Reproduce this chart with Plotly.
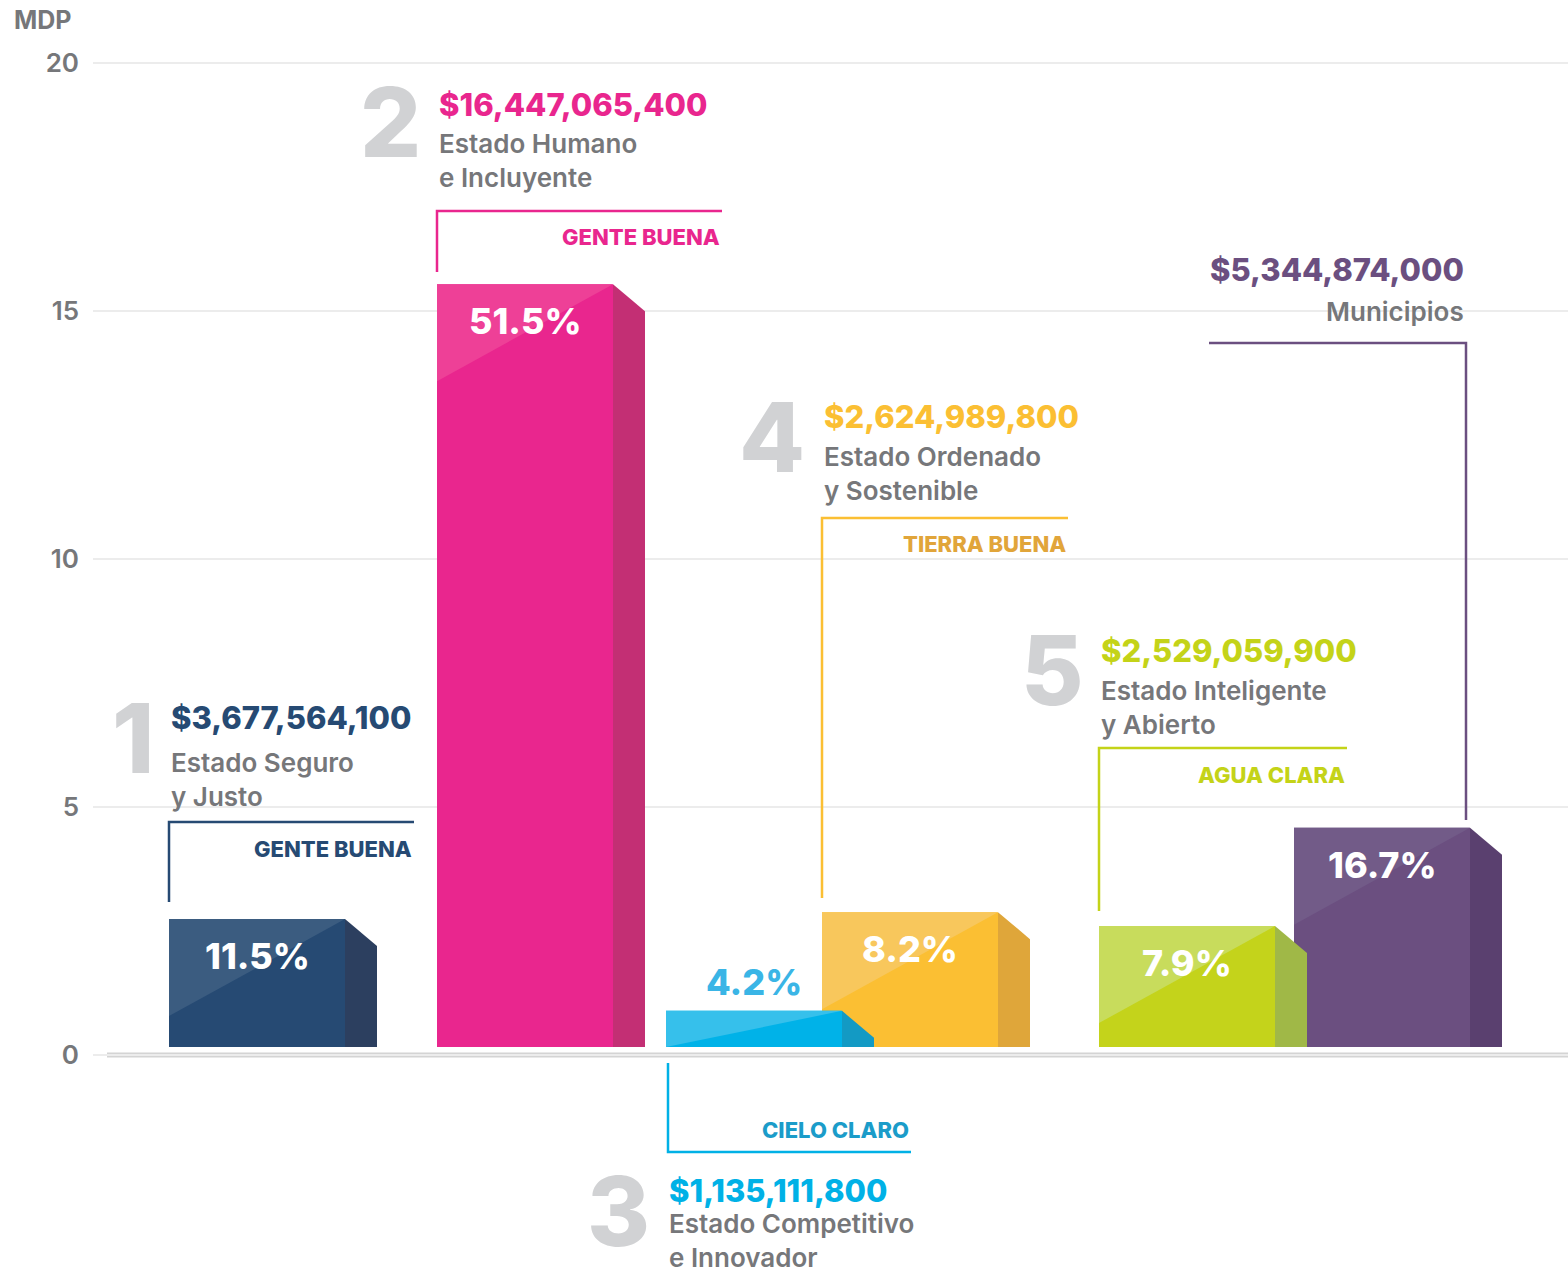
import plotly.graph_objects as go

programs = ["Estado Seguro<br>y Justo", "Estado Humano<br>e Incluyente",
            "Estado Competitivo<br>e Innovador", "Estado Ordenado<br>y Sostenible",
            "Estado Inteligente<br>y Abierto", "Municipios"]
amounts = ["$3,677,564,100", "$16,447,065,400", "$1,135,111,800",
           "$2,624,989,800", "$2,529,059,900", "$5,344,874,000"]
shares = ["11.5%", "51.5%", "4.2%", "8.2%", "7.9%", "16.7%"]
ejes = ["GENTE BUENA", "GENTE BUENA", "CIELO CLARO", "TIERRA BUENA", "AGUA CLARA", ""]
numbers = ["1", "2", "3", "4", "5", ""]
heights = [2.74, 15.54, 0.89, 2.88, 2.60, 4.58]   # MDP, bar tops as drawn
yticks = [0, 5, 10, 15, 20]

# ---- styling ----
front = ["#264a73", "#e9268e", "#00b2e8", "#fbbf33", "#c4d31b", "#6b4f80"]
light = ["#3b5c80", "#ee4097", "#36c0eb", "#f8c75c", "#c8dc5c", "#725b88"]
side = ["#2c3f5f", "#c32f74", "#139ac4", "#dfa63a", "#a0b847", "#5a406f"]
accent = ["#264a73", "#e9268e", "#00b1e6", "#fbbf33", "#c4d318", "#6b4f80"]
eje_col = ["#264a73", "#e9268e", "#1b9cc9", "#e1a53a", "#c4d318", "#6b4f80"]
pct_col = ["white", "white", "#3ab5e6", "white", "white", "white"]
GREY = "#76777a"
NUMGREY = "#d1d2d4"
FONT = "Inter"

W, H = 1568, 1278
L = 93             # left margin (plot area starts here)
PX = 49.6          # pixels per MDP unit
Y0 = 1055          # pixel row of the zero line
BASE = 8 / PX      # bars float a little above the axis
bar_left = [169, 437, 666, 822, 1099, 1294]
BAR_W = 176
SIDE_W = 32
SIDE_DROP = 27 / PX
HL_DROP = 97 / PX
draw_order = [0, 1, 3, 2, 5, 4]


def py(p):
    return 1 - p / H


fig = go.Figure()

for i in draw_order:
    l = bar_left[i]
    r = l + BAR_W
    h = heights[i]
    fig.add_trace(go.Bar(x=[l + BAR_W / 2], y=[h - BASE], base=BASE, width=BAR_W,
                         marker=dict(color=front[i], line=dict(width=0)),
                         hoverinfo="skip", showlegend=False))
    d = min(HL_DROP, h - BASE)
    fig.add_trace(go.Scatter(x=[l, r, l, l], y=[h, h, h - d, h], fill="toself",
                             fillcolor=light[i], mode="lines", line=dict(width=0),
                             hoverinfo="skip", showlegend=False))
    fig.add_trace(go.Scatter(x=[r, r + SIDE_W, r + SIDE_W, r, r],
                             y=[h, h - SIDE_DROP, BASE, BASE, h], fill="toself",
                             fillcolor=side[i], mode="lines", line=dict(width=0),
                             hoverinfo="skip", showlegend=False))

# percentage labels
for i in range(6):
    shift = 29 if i == 2 else -37
    fig.add_annotation(x=bar_left[i] + BAR_W / 2, y=heights[i], xref="x", yref="y",
                       text=shares[i], showarrow=False, yshift=shift, yanchor="middle",
                       font=dict(family=FONT, size=36, color=pct_col[i], weight=800))

# label blocks (pixel positions)
num_pos = [(156, 738), (423, 122), (652, 1211), (807, 437), (1086, 670), None]
amt_pos = [(169, 717), (437, 105), (667, 1190), (822, 417), (1099, 650), (1466, 270)]
desc_pos = [(169, 779), (437, 161), (667, 1240), (822, 473), (1099, 707), (1466, 312)]
eje_pos = [(414, 849), (722, 237), (911, 1130), (1068, 544), (1347, 775), None]
brackets = [
    [(169, 902), (169, 822), (414, 822)],
    [(437, 272), (437, 211), (722, 211)],
    [(668, 1063), (668, 1152), (911, 1152)],
    [(822, 898), (822, 518), (1068, 518)],
    [(1099, 911), (1099, 748), (1347, 748)],
    [(1209, 343), (1466, 343), (1466, 820)],
]

for i in range(6):
    anchor = "right" if i == 5 else "left"
    if num_pos[i]:
        fig.add_annotation(x=num_pos[i][0], y=py(num_pos[i][1]), xref="x", yref="paper",
                           text=numbers[i], showarrow=False, xanchor="right", yanchor="middle",
                           font=dict(family=FONT, size=96, color=NUMGREY, weight=800))
    fig.add_annotation(x=amt_pos[i][0], y=py(amt_pos[i][1]), xref="x", yref="paper",
                       text=amounts[i], showarrow=False, xanchor=anchor, yanchor="middle",
                       font=dict(family=FONT, size=31, color=accent[i], weight=800))
    fig.add_annotation(x=desc_pos[i][0], y=py(desc_pos[i][1]), xref="x", yref="paper",
                       text=programs[i], showarrow=False, xanchor=anchor, yanchor="middle",
                       align=anchor, font=dict(family=FONT, size=26, color=GREY, weight=600))
    if eje_pos[i]:
        fig.add_annotation(x=eje_pos[i][0], y=py(eje_pos[i][1]), xref="x", yref="paper",
                           text=ejes[i], showarrow=False, xanchor="right", yanchor="middle",
                           font=dict(family=FONT, size=22, color=eje_col[i], weight=800))
    path = "M" + " L".join(f"{x},{py(y)}" for x, y in brackets[i])
    fig.add_shape(type="path", path=path, xref="x", yref="paper",
                  line=dict(color=accent[i], width=2.5))

# zero line
fig.add_shape(type="line", x0=107, x1=W, y0=0, y1=0, xref="x", yref="y",
              line=dict(color="#d4d4d4", width=5), layer="below")

# unit label above the axis
fig.add_annotation(x=(12 - L) / (W - L), y=py(20), xref="paper", yref="paper", text="MDP",
                   showarrow=False, xanchor="left", yanchor="middle",
                   font=dict(family=FONT, size=25, color=GREY, weight=700))

fig.update_layout(
    width=W, height=H,
    margin=dict(l=L, r=0, t=0, b=0),
    paper_bgcolor="white", plot_bgcolor="white",
    barmode="overlay",
    xaxis=dict(range=[L, W], visible=False, fixedrange=True),
    yaxis=dict(range=[-(H - Y0) / PX, Y0 / PX], tickvals=yticks,
               ticktext=[str(v) for v in yticks], showgrid=True, gridcolor="#ececec",
               gridwidth=2, zeroline=False, ticks="", ticklabelstandoff=13,
               tickfont=dict(family=FONT, size=26, color=GREY, weight=600),
               fixedrange=True),
    font=dict(family=FONT),
)

fig.write_html("out.html", config={"displayModeBar": False},
               post_script="document.body.style.margin='0';")
